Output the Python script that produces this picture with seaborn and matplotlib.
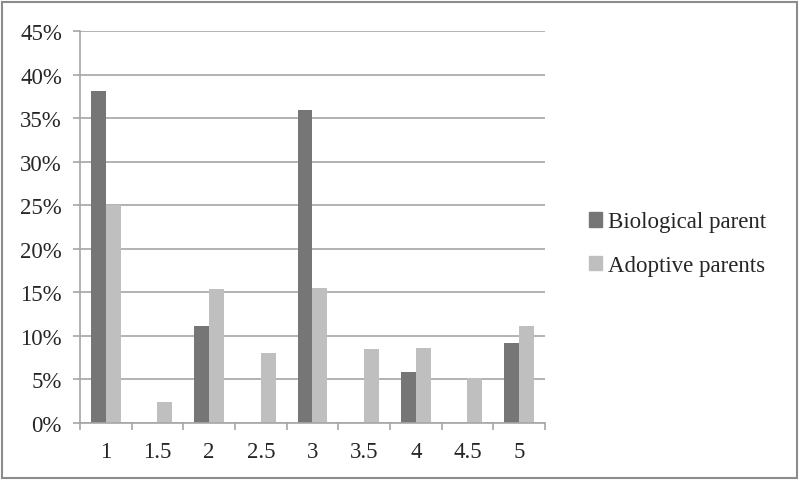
import matplotlib
matplotlib.use("Agg")
import matplotlib.pyplot as plt
import seaborn as sns
import pandas as pd
from matplotlib.patches import Rectangle
from matplotlib.ticker import FuncFormatter, FixedLocator

# ── Data ───────────────────────────────────────────────────────
categories = ["1", "1.5", "2", "2.5", "3", "3.5", "4", "4.5", "5"]
biological = [38.1, 0, 11.1, 0, 35.9, 0, 5.8, 0, 9.2]
adoptive = [25.0, 2.4, 15.4, 8.0, 15.5, 8.5, 8.6, 5.2, 11.1]
series_names = ["Biological parent", "Adoptive parents"]
y_ticks = [0, 5, 10, 15, 20, 25, 30, 35, 40, 45]

df = pd.DataFrame({
    "score": categories * 2,
    "value": biological + adoptive,
    "group": [series_names[0]] * len(categories) + [series_names[1]] * len(categories),
})

# ── Style ──────────────────────────────────────────────────────
sns.set_style("white")
plt.rcParams["font.family"] = ["Liberation Serif", "DejaVu Serif"]
FS = 16.5

fig = plt.figure(figsize=(7.99, 4.81), dpi=100)
ax = fig.add_axes([0.1001, 0.1185, 0.5820, 0.8150])

palette = {series_names[0]: "#767676", series_names[1]: "#bfbfbf"}
sns.barplot(
    data=df, x="score", y="value", hue="group",
    order=categories, hue_order=series_names,
    palette=palette, width=0.572, gap=0,
    saturation=1, ax=ax, legend=False, linewidth=0,
)

# ── Axes ───────────────────────────────────────────────────────
ax.set_ylim(0, 45)
ax.set_xlim(-0.5, len(categories) - 0.5)
ax.set_yticks(y_ticks)
ax.yaxis.set_major_formatter(FuncFormatter(lambda v, p: f"{v:.0f}%"))
ax.set_xlabel("")
ax.set_ylabel("")
ax.grid(axis="y", color="#a6a6a6", linewidth=1.2)
ax.set_axisbelow(True)

for side in ["top", "right"]:
    ax.spines[side].set_visible(False)
for side in ["left", "bottom"]:
    ax.spines[side].set_color("#a6a6a6")
    ax.spines[side].set_linewidth(1.2)

ax.xaxis.set_minor_locator(FixedLocator([i - 0.5 for i in range(len(categories) + 1)]))
ax.tick_params(axis="x", which="major", length=0, pad=13, labelsize=FS)
ax.tick_params(axis="x", which="minor", length=5, width=1.2, color="#a6a6a6", direction="out", bottom=True)
ax.tick_params(axis="y", length=5, width=1.2, color="#a6a6a6", direction="out", left=True, pad=8, labelsize=FS)

# ── Legend ─────────────────────────────────────────────────────
handles = [Rectangle((0, 0), 1, 1, color=palette[n]) for n in series_names]
fig.legend(
    handles, series_names,
    loc="center left", bbox_to_anchor=(0.711, 0.491),
    frameon=False, fontsize=FS,
    handlelength=0.6, handleheight=0.6, handletextpad=0.25,
    labelspacing=1.0,
)

# ── Outer border ───────────────────────────────────────────────
fig.patches.append(Rectangle(
    (2 / 799, 2 / 481), 795 / 799, 476 / 481,
    transform=fig.transFigure, fill=False,
    edgecolor="#8c8c8c", linewidth=1.5,
))

fig.savefig("out.png", dpi=100)
